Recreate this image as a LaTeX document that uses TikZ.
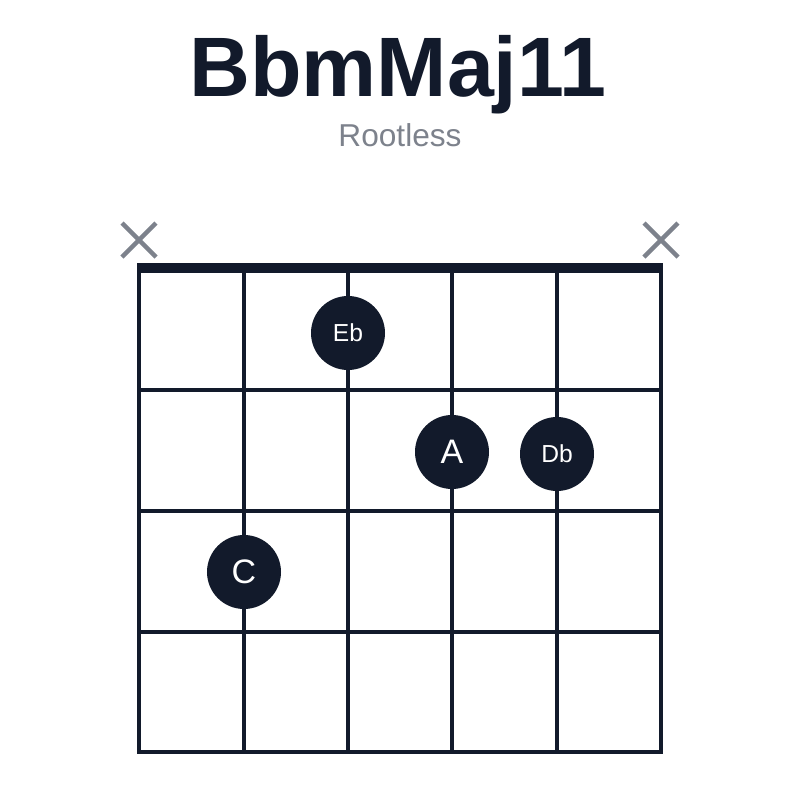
\documentclass[tikz,border=0pt]{standalone}
\usepackage{fontspec}
\setmainfont{Liberation Sans}
\definecolor{ink}{HTML}{121A2B}
\definecolor{mute}{HTML}{7D828C}
\tikzset{
  dot/.style={circle,fill=ink,minimum size=2.22cm,inner sep=0pt,text=white},
  xmark/.style={draw=mute,line width=1.3mm}
}
\begin{document}
\begin{tikzpicture}[x=0.03cm,y=-0.03cm]
\useasboundingbox (0,0) rectangle (800,800);
\fill[white] (0,0) rectangle (800,800);
% frets
\draw[ink,line width=1.05mm] (139,390) -- (661,390);
\draw[ink,line width=1.05mm] (139,511) -- (661,511);
\draw[ink,line width=1.05mm] (139,632) -- (661,632);
\draw[ink,line width=1.05mm] (137,752) -- (663,752);
% strings
\foreach \x in {139,244,348,452,557,661}
  \draw[ink,line width=1.05mm] (\x,268) -- (\x,752);
% nut
\draw[ink,line width=3mm] (137,268) -- (663,268);

\draw[xmark] (122,223) -- (156,257); \draw[xmark] (122,257) -- (156,223);
\draw[xmark] (644,223) -- (678,257); \draw[xmark] (644,257) -- (678,223);

\node (eb) [dot,font=\fontsize{21}{21}\selectfont] at (348,333) {Eb};
\node (a) [dot,font=\fontsize{29}{29}\selectfont] at (452,452) {A};
\node (db) [dot,font=\fontsize{21}{21}\selectfont] at (557,454) {Db};
\node (c) [dot,font=\fontsize{29}{29}\selectfont] at (244,572) {C};

\node (title) [text=ink,font=\fontsize{72}{72}\selectfont\bfseries] at (398,75) {BbmMaj11};
\node (sub) [text=mute,font=\fontsize{27}{27}\selectfont] at (400,135) {Rootless};
\end{tikzpicture}
\end{document}
